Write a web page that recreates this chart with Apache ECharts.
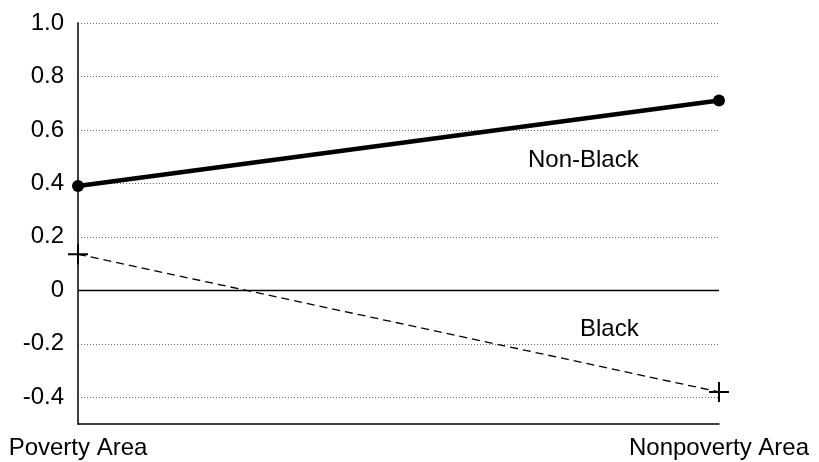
<!DOCTYPE html>
<html>
<head>
<meta charset="utf-8">
<script src="https://cdn.jsdelivr.net/npm/echarts@6/dist/echarts.min.js"></script>
<style>
    html, body { margin: 0; padding: 0; background: #fff; }
    #chart { width: 819px; height: 462px; }
</style>
</head>
<body>
<div id="chart"></div>
<script>
// 数据
var categories = ['Poverty Area', 'Nonpoverty Area'];
var nonBlackValues = [0.39, 0.71];
var blackValues = [0.135, -0.38];
var yMin = -0.5;
var yMax = 1.0;

var fontFamily = "'Liberation Sans', Arial, sans-serif";

// 十字符号
var plusSymbol = 'path://M9,0h2v9h9v2h-9v9h-2v-9h-9v-2h9z';

var myChart = echarts.init(document.getElementById('chart'));

var options = {
    animation: false,
    textStyle: { fontFamily: fontFamily },
    grid: {
        left: 78,
        right: 100,
        top: 23,
        bottom: 38,
        containLabel: false,
    },
    xAxis: {
        type: 'category',
        data: categories,
        boundaryGap: false,
        axisLine: {
            show: true,
            onZero: false,
            lineStyle: { color: '#000', width: 1.5 },
        },
        axisTick: { show: false },
        splitLine: { show: false },
        axisLabel: {
            color: '#000',
            fontSize: 24,
            fontFamily: fontFamily,
            margin: 12,
            interval: 0,
        },
    },
    yAxis: {
        type: 'value',
        min: yMin,
        max: yMax,
        interval: 0.1,
        axisLine: {
            show: true,
            lineStyle: { color: '#000', width: 1.5 },
        },
        axisTick: { show: false },
        splitLine: {
            show: true,
            lineStyle: {
                // 只在0.2的倍数处显示网格线
                color: ['rgba(0,0,0,0)', '#666'],
                type: [1, 2],
                width: 1,
            },
        },
        axisLabel: {
            color: '#000',
            fontSize: 24,
            fontFamily: fontFamily,
            margin: 14,
            formatter: function (v) {
                var t = Math.round(v * 10);
                if (t % 2 !== 0) return '';
                if (t === 0) return '0';
                return (t / 10).toFixed(1);
            },
        },
    },
    graphic: [
        {
            type: 'text',
            left: 528,
            top: 148,
            style: { text: 'Non-Black', fill: '#000', font: '24px ' + fontFamily },
        },
        {
            type: 'text',
            left: 580,
            top: 317,
            style: { text: 'Black', fill: '#000', font: '24px ' + fontFamily },
        },
    ],
    series: [
        {
            name: 'Black',
            type: 'line',
            data: blackValues,
            symbol: plusSymbol,
            symbolSize: 20,
            itemStyle: { color: '#000' },
            lineStyle: { color: '#000', width: 1.3, type: [8, 5] },
            markLine: {
                silent: true,
                symbol: 'none',
                label: { show: false },
                lineStyle: { color: '#000', width: 1.3, type: 'solid' },
                data: [{ yAxis: 0 }],
            },
            z: 3,
        },
        {
            name: 'Non-Black',
            type: 'line',
            data: nonBlackValues,
            symbol: 'circle',
            symbolSize: 12,
            itemStyle: { color: '#000' },
            lineStyle: { color: '#000', width: 4.5 },
            z: 4,
        },
    ],
};

myChart.setOption(options);
</script>
</body>
</html>
